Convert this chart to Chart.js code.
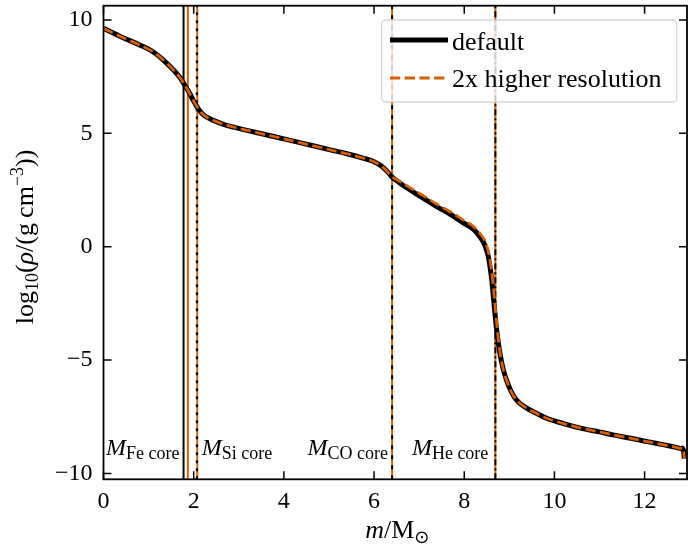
<!DOCTYPE html>
<html>
<head>
<meta charset="utf-8">
<script src="https://cdn.jsdelivr.net/npm/chart.js@4"></script>
<style>
  html, body { margin: 0; padding: 0; background: #fff; }
  canvas { display: block; }
</style>
</head>
<body>
<canvas id="chart" width="689" height="555"></canvas>
<script>
// density profile, default run
const massDefault = [0, 0.4, 0.8, 1.03, 1.2, 1.4, 1.55, 1.7, 1.78, 1.9, 2.0, 2.07, 2.14, 2.2, 2.3, 2.45, 2.66, 3.0, 3.84, 4.4, 5.03, 5.4, 5.77, 6.0, 6.17, 6.3, 6.39, 6.5, 6.65, 7.0, 7.39, 7.7, 7.98, 8.2, 8.35, 8.45, 8.53, 8.58, 8.61, 8.65, 8.72, 8.8, 8.87, 8.95, 9.02, 9.1, 9.2, 9.35, 9.55, 9.84, 10.2, 10.58, 11.0, 11.3, 11.7, 12.06, 12.4, 12.7, 12.8, 12.84, 12.87, 12.88];
const rhoDefault = [9.63, 9.25, 8.9, 8.68, 8.45, 8.1, 7.8, 7.45, 7.2, 6.8, 6.42, 6.18, 5.98, 5.85, 5.7, 5.56, 5.4, 5.22, 4.83, 4.57, 4.27, 4.1, 3.9, 3.75, 3.55, 3.3, 3.09, 2.92, 2.7, 2.25, 1.77, 1.42, 1.05, 0.78, 0.44, 0.1, -0.4, -1.0, -1.47, -2.3, -3.7, -4.8, -5.45, -5.95, -6.3, -6.6, -6.85, -7.08, -7.3, -7.58, -7.8, -8.0, -8.17, -8.3, -8.45, -8.6, -8.73, -8.85, -8.9, -8.88, -9.1, -9.35];

// density profile, 2x higher resolution
const massHires = [0, 0.4, 0.8, 1.03, 1.2, 1.4, 1.55, 1.7, 1.78, 1.9, 2.0, 2.07, 2.14, 2.2, 2.3, 2.45, 2.66, 3.0, 3.84, 4.4, 5.03, 5.4, 5.77, 6.0, 6.17, 6.3, 6.39, 6.5, 6.65, 7.0, 7.39, 7.7, 7.98, 8.2, 8.35, 8.47, 8.55, 8.6, 8.63, 8.67, 8.73, 8.8, 8.87, 8.95, 9.02, 9.1, 9.2, 9.35, 9.55, 9.84, 10.2, 10.58, 11.0, 11.3, 11.7, 12.06, 12.4, 12.7, 12.8, 12.84, 12.87, 12.88];
const rhoHires = [9.63, 9.25, 8.9, 8.68, 8.45, 8.1, 7.8, 7.45, 7.2, 6.8, 6.42, 6.18, 5.98, 5.85, 5.7, 5.56, 5.4, 5.22, 4.83, 4.57, 4.27, 4.1, 3.9, 3.75, 3.55, 3.3, 3.1, 2.96, 2.78, 2.36, 1.88, 1.53, 1.17, 0.9, 0.58, 0.2, -0.35, -1.0, -1.5, -2.3, -3.6, -4.75, -5.45, -5.95, -6.3, -6.6, -6.85, -7.08, -7.3, -7.58, -7.8, -8.0, -8.17, -8.3, -8.45, -8.6, -8.73, -8.85, -8.9, -8.88, -9.1, -9.35];

// core boundaries (Fe, Si, CO, He)
const coreNames = ["Fe core", "Si core", "CO core", "He core"];
const coreDefault = [1.775, 2.07, 6.40, 8.69];
const coreHires = [1.87, 2.08, 6.40, 8.69];

const seriesLabels = ["default", "2x higher resolution"];
const xTicks = [0, 2, 4, 6, 8, 10, 12];
const yTicks = [-10, -5, 0, 5, 10];

const X_MIN = 0, X_MAX = 12.94;
const Y_MIN = -10.26, Y_MAX = 10.63;

const ORANGE = "#d95f02";
const SERIF = "'Liberation Serif', 'DejaVu Serif', serif";

function toPoints(xs, ys) {
	return xs.map((x, i) => ({ x: x, y: ys[i] }));
}

// vertical core line as 2-point dataset
function vline(m, color, width, dash, order) {
	return {
		label: "",
		data: [{ x: m, y: Y_MIN }, { x: m, y: Y_MAX }],
		borderColor: color,
		borderWidth: width,
		borderDash: dash,
		pointRadius: 0,
		showLine: true,
		order: order
	};
}

// black dash styles per core line
const coreDash = [[], [3, 5], [4, 6], [6, 3, 2, 3]];

const datasets = [];
coreHires.forEach((m) => datasets.push(vline(m, ORANGE, 2, [], 4)));
coreDefault.forEach((m, i) => datasets.push(vline(m, "#000", 2, coreDash[i], 3)));
datasets.push({
	label: seriesLabels[0],
	data: toPoints(massDefault, rhoDefault),
	borderColor: "#000",
	borderWidth: 5,
	pointRadius: 0,
	showLine: true,
	cubicInterpolationMode: "monotone",
	order: 2
});
datasets.push({
	label: seriesLabels[1],
	data: toPoints(massHires, rhoHires),
	borderColor: ORANGE,
	borderWidth: 2.8,
	borderDash: [10.3, 4.4],
	pointRadius: 0,
	showLine: true,
	cubicInterpolationMode: "monotone",
	order: 1
});

// text with sub/superscripts: runs of {t, size, dy, italic}
function drawRuns(ctx, runs, x, y, align) {
	let total = 0;
	runs.forEach((r) => {
		ctx.font = (r.italic ? "italic " : "") + r.size + "px " + (r.font || SERIF);
		r.w = ctx.measureText(r.t).width;
		total += r.w;
	});
	let cx = align === "center" ? x - total / 2 : (align === "right" ? x - total : x);
	runs.forEach((r) => {
		ctx.font = (r.italic ? "italic " : "") + r.size + "px " + (r.font || SERIF);
		ctx.fillText(r.t, cx, y + (r.dy || 0));
		cx += r.w;
	});
}

const decorPlugin = {
	id: "decor",
	afterDraw(chart) {
		const ctx = chart.ctx;
		const a = chart.chartArea;
		const xs = chart.scales.x, ys = chart.scales.y;
		ctx.save();
		ctx.fillStyle = "#000";
		ctx.textBaseline = "alphabetic";

		// core labels
		coreNames.forEach((name, i) => {
			const px = xs.getPixelForValue(coreDefault[i]);
			const runs = [{ t: "M", size: 24, italic: true }, { t: name, size: 18, dy: 4 }];
			if (i === 1) drawRuns(ctx, runs, px + 5, 455, "left");
			else if (i === 3) drawRuns(ctx, runs, px - 7, 455, "right");
			else drawRuns(ctx, runs, px - 4, 455, "right");
		});

		// frame
		ctx.strokeStyle = "#000";
		ctx.lineWidth = 1.8;
		ctx.strokeRect(a.left, a.top, a.right - a.left, a.bottom - a.top);

		// inward ticks on all sides
		ctx.lineWidth = 1.5;
		const tl = 8;
		ctx.beginPath();
		xTicks.forEach((v) => {
			const px = xs.getPixelForValue(v);
			ctx.moveTo(px, a.bottom); ctx.lineTo(px, a.bottom - tl);
			ctx.moveTo(px, a.top); ctx.lineTo(px, a.top + tl);
		});
		yTicks.forEach((v) => {
			const py = ys.getPixelForValue(v);
			ctx.moveTo(a.left, py); ctx.lineTo(a.left + tl, py);
			ctx.moveTo(a.right, py); ctx.lineTo(a.right - tl, py);
		});
		ctx.stroke();

		// axis titles
		drawRuns(ctx, [
			{ t: "m", size: 26, italic: true },
			{ t: "/M", size: 26 },
			{ t: "\u2299", size: 18, dy: 5, font: "'DejaVu Sans', sans-serif" }
		], (a.left + a.right) / 2 + 2, 538, "center");

		ctx.save();
		ctx.translate(33, 237);
		ctx.rotate(-Math.PI / 2);
		drawRuns(ctx, [
			{ t: "log", size: 26 },
			{ t: "10", size: 18, dy: 5 },
			{ t: "(", size: 26 },
			{ t: "\u03c1", size: 26, italic: true },
			{ t: "/(g\u2009cm", size: 26 },
			{ t: "\u22123", size: 18, dy: -10 },
			{ t: "))", size: 26 }
		], 0, 0, "center");
		ctx.restore();

		// legend
		const lx = 381.7, ly = 20, lw = 295, lh = 82;
		ctx.beginPath();
		ctx.roundRect(lx, ly, lw, lh, 4);
		ctx.fillStyle = "rgba(255,255,255,0.8)";
		ctx.fill();
		ctx.strokeStyle = "rgba(204,204,204,0.8)";
		ctx.lineWidth = 1.3;
		ctx.stroke();

		const d0 = chart.data.datasets.find((d) => d.label === seriesLabels[0]);
		const d1 = chart.data.datasets.find((d) => d.label === seriesLabels[1]);
		ctx.beginPath();
		ctx.strokeStyle = d0.borderColor;
		ctx.lineWidth = d0.borderWidth;
		ctx.moveTo(390, 40); ctx.lineTo(448, 40);
		ctx.stroke();
		ctx.beginPath();
		ctx.strokeStyle = d1.borderColor;
		ctx.lineWidth = d1.borderWidth;
		ctx.setLineDash(d1.borderDash);
		ctx.moveTo(390, 78); ctx.lineTo(448, 78);
		ctx.stroke();
		ctx.setLineDash([]);

		ctx.fillStyle = "#000";
		ctx.font = "26px " + SERIF;
		ctx.fillText(seriesLabels[0], 452, 50);
		ctx.fillText(seriesLabels[1], 452, 87);
		ctx.restore();
	}
};

new Chart(document.getElementById("chart"), {
	type: "scatter",
	data: { datasets: datasets },
	options: {
		responsive: false,
		animation: false,
		devicePixelRatio: 1,
		layout: { padding: { top: 5.7, right: 2, left: 0, bottom: 0 } },
		plugins: { legend: { display: false }, tooltip: { enabled: false } },
		scales: {
			x: {
				type: "linear",
				min: X_MIN,
				max: X_MAX,
				afterBuildTicks: (s) => { s.ticks = xTicks.map((v) => ({ value: v })); },
				afterFit: (s) => {
					s.height = 555 - 479.3;
					s.paddingLeft = 0;
					s.paddingRight = 0;
				},
				grid: { display: false, drawTicks: false },
				border: { display: false },
				ticks: {
					color: "#000",
					font: { family: SERIF, size: 24 },
					padding: 8,
					maxRotation: 0,
					callback: (v) => String(v).replace("-", "\u2212")
				}
			},
			y: {
				type: "linear",
				min: Y_MIN,
				max: Y_MAX,
				afterBuildTicks: (s) => { s.ticks = yTicks.map((v) => ({ value: v })); },
				afterFit: (s) => {
					s.width = 103.5;
					s.paddingTop = 0;
					s.paddingBottom = 0;
				},
				grid: { display: false, drawTicks: false },
				border: { display: false },
				ticks: {
					color: "#000",
					font: { family: SERIF, size: 24 },
					padding: 11,
					callback: (v) => String(v).replace("-", "\u2212")
				}
			}
		}
	},
	plugins: [decorPlugin]
});
</script>
</body>
</html>
